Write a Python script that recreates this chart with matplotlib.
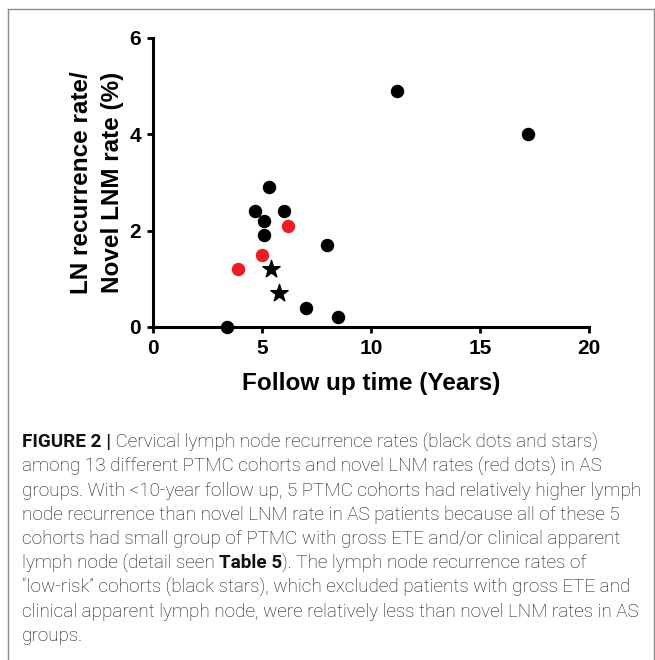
import matplotlib.pyplot as plt
from matplotlib.lines import Line2D

# Data
cohort_years = [3.4, 4.7, 5.1, 5.1, 5.3, 6.0, 7.0, 8.0, 8.5, 11.2, 17.2]
cohort_rates = [0.0, 2.4, 2.2, 1.9, 2.9, 2.4, 0.4, 1.7, 0.2, 4.9, 4.0]
as_years = [3.9, 5.0, 6.2]
as_rates = [1.2, 1.5, 2.1]
lowrisk_years = [5.4, 5.8]
lowrisk_rates = [1.2, 0.7]
xticks = [0, 5, 10, 15, 20]
yticks = [0, 2, 4, 6]

W, H = 655, 660
fig = plt.figure(figsize=(W / 100, H / 100), dpi=100)
ax = fig.add_axes([153 / W, 1 - 327 / H, (589 - 153) / W, (327 - 37.7) / H])

ax.scatter(cohort_years, cohort_rates, s=75, c="black", clip_on=False, zorder=3)
ax.scatter(as_years, as_rates, s=75, c="#ee1c25", clip_on=False, zorder=3)
ax.scatter(lowrisk_years, lowrisk_rates, s=170, marker="*", c="black", clip_on=False, zorder=3)

ax.set_xlim(0, 20)
ax.set_ylim(0, 6)
ax.set_xticks(xticks)
ax.set_yticks(yticks)
for s in ["top", "right"]:
    ax.spines[s].set_visible(False)
for s in ["left", "bottom"]:
    ax.spines[s].set_linewidth(2.2)
ax.tick_params(width=2, length=4.5, labelsize=15, pad=4)
for lab in ax.get_xticklabels() + ax.get_yticklabels():
    lab.set_fontweight("bold")
    lab.set_family("Liberation Sans")

ax.set_xlabel("Follow up time (Years)", fontsize=17.5, fontweight="bold",
              family="Liberation Sans", labelpad=10)
ax.set_ylabel("LN recurrence rate/\nNovel LNM rate (%)", fontsize=17.5,
              fontweight="bold", family="Liberation Sans", labelpad=4,
              linespacing=1.45)

# frame around the figure panel
fig.add_artist(Line2D([7.5 / W, 7.5 / W], [0, 1 - 9 / H], transform=fig.transFigure,
                      color="#8a8a8a", lw=1))
fig.add_artist(Line2D([7.5 / W, 1], [1 - 9 / H, 1 - 9 / H], transform=fig.transFigure,
                      color="#8a8a8a", lw=1))
fig.add_artist(Line2D([653.5 / W, 653.5 / W], [0, 1 - 9 / H], transform=fig.transFigure,
                      color="#8a8a8a", lw=1))

# caption, with bold runs
caption = [
    [("FIGURE 2 |", True), (" Cervical lymph node recurrence rates (black dots and stars)", False)],
    [("among 13 different PTMC cohorts and novel LNM rates (red dots) in AS", False)],
    [("groups. With <10-year follow up, 5 PTMC cohorts had relatively higher lymph", False)],
    [("node recurrence than novel LNM rate in AS patients because all of these 5", False)],
    [("cohorts had small group of PTMC with gross ETE and/or clinical apparent", False)],
    [("lymph node (detail seen ", False), ("Table 5", True), ("). The lymph node recurrence rates of", False)],
    [("\u201clow-risk\u201d cohorts (black stars), which excluded patients with gross ETE and", False)],
    [("clinical apparent lymph node, were relatively less than novel LNM rates in AS", False)],
    [("groups.", False)],
]

fig.canvas.draw()
renderer = fig.canvas.get_renderer()
y0, dy = 442, 24.3
for i, line in enumerate(caption):
    x = 22
    y = y0 + i * dy
    for txt, bold in line:
        t = fig.text(x / W, 1 - y / H, txt, fontsize=13.6, va="center", ha="left",
                     family="Roboto", fontweight="bold" if bold else "light",
                     color="#111111")
        bb = t.get_window_extent(renderer)
        x += bb.width

fig.savefig("out.png", dpi=100)
